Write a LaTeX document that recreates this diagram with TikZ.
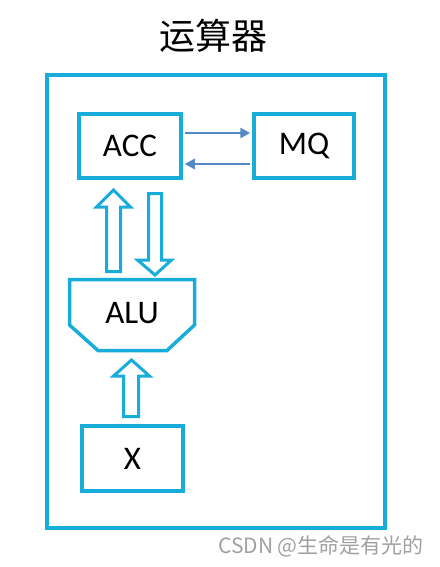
\documentclass[tikz,border=0pt]{standalone}
\usepackage{fontspec}
\setmainfont{Carlito}
\newfontfamily\cjk{Noto Sans CJK SC}
\usetikzlibrary{arrows.meta,calc}
\definecolor{cyanline}{RGB}{24,172,218}
\definecolor{steel}{RGB}{86,136,200}
\definecolor{wmgray}{RGB}{160,160,160}
\tikzset{
  regbox/.style={draw=cyanline,line width=3.5pt,minimum width=102pt,minimum height=64pt,inner sep=0pt,font=\fontsize{33}{36}\selectfont},
  hollow/.style={draw=cyanline,line width=3pt,line join=miter},
  thinarrow/.style={draw=steel,line width=2.6pt,-{Triangle[length=10pt,width=10pt]}},
  lbl/.style={inner sep=0pt,font=\fontsize{33}{36}\selectfont}
}
\begin{document}
\begin{tikzpicture}[x=1pt,y=-1pt]
\useasboundingbox (0,0) rectangle (439,567);
% title
\node[inner sep=0pt,font=\cjk\fontsize{36}{40}\selectfont] (title) at (213,36) {运算器};
% outer box
\draw[cyanline,line width=4pt] (47,75) rectangle (385,528);
% registers
\node[regbox] (acc) at (130,146) {ACC};
\node[regbox,minimum width=100pt] (mq) at (304,146) {MQ};
\node[regbox,minimum width=101pt,minimum height=65pt] (x) at (132.5,458.5) {X};
% small arrows
\draw[thinarrow] ($(acc.east)+(2,-13)$) -- ($(mq.west)+(-2,-13)$);
\draw[thinarrow] ($(mq.west)+(-2,18)$) -- ($(acc.east)+(2,18)$);
% ALU
\draw[cyanline,line width=3.5pt,line join=miter] (69.5,279.5) -- (194.5,279.5) -- (194.5,325) -- (167,350.5) -- (98,350.5) -- (69.5,325) -- cycle;
\node[lbl] (alu) at (132,313) {ALU};
% hollow arrows
\draw[hollow] (106.5,271.5) -- (106.5,207) -- (96.5,207) -- (113.5,190) -- (130.5,207) -- (120.5,207) -- (120.5,271.5) -- cycle;
\draw[hollow] (148.5,193.5) -- (148.5,260) -- (137.5,260) -- (155,275) -- (171.5,260) -- (161.5,260) -- (161.5,193.5) -- cycle;
\draw[hollow] (123.5,416.5) -- (123.5,376) -- (113.5,376) -- (131.5,360) -- (149.5,376) -- (138.5,376) -- (138.5,416.5) -- cycle;
% watermark
\node[inner sep=0pt,anchor=east,text=wmgray,font=\cjk\fontsize{21}{24}\selectfont] (wm) at (424,546) {CSDN @生命是有光的};
\end{tikzpicture}
\end{document}
